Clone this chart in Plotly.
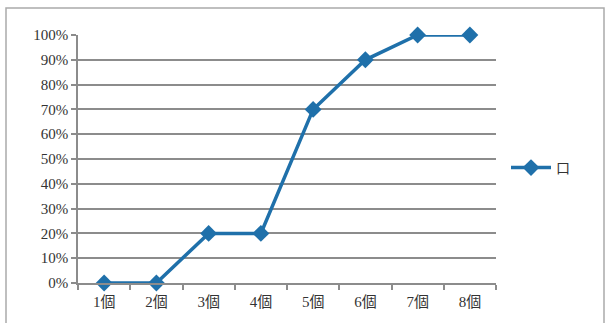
import plotly.graph_objects as go

categories = ["1個", "2個", "3個", "4個", "5個", "6個", "7個", "8個"]
values = [0.0, 0.0, 0.2, 0.2, 0.7, 0.9, 1.0, 1.0]
series_name = "口"

W, H = 607, 323
L, R, T, B = 78, 496, 35, 283

def px_x(p):
    return (p - L) / (R - L)

def px_y(p):
    return (B - p) / (B - T)

font_family = "Liberation Serif, DejaVu Serif, Noto Sans CJK JP, serif"
blue = "#1f70aa"

fig = go.Figure()
fig.add_trace(go.Scatter(
    x=categories, y=values, name=series_name,
    mode="lines+markers",
    line=dict(color=blue, width=3.5),
    marker=dict(symbol="diamond", size=13, color=blue),
    cliponaxis=False,
))

fig.update_layout(
    width=W, height=H,
    margin=dict(l=L, r=W - R, t=T, b=H - B),
    paper_bgcolor="white", plot_bgcolor="white",
    font=dict(family=font_family, size=15, color="#333333"),
    showlegend=True,
    legend=dict(x=px_x(506), y=px_y(168), xanchor="left", yanchor="middle",
                font=dict(size=14, family=font_family, color="#333333"),
                bgcolor="rgba(0,0,0,0)", itemwidth=40),
    xaxis=dict(
        type="category", range=[-0.5, 7.5],
        showline=True, linecolor="#8c8c8c", linewidth=1.5,
        ticks="outside", ticklen=5, tickcolor="#8c8c8c", tickwidth=1.5,
        tickson="boundaries", showgrid=False, zeroline=False,
        tickfont=dict(size=15), ticklabelstandoff=4,
    ),
    yaxis=dict(
        range=[0, 1], tickvals=[i / 10 for i in range(11)], tickformat=".0%",
        showline=True, linecolor="#8c8c8c", linewidth=1.5,
        ticks="outside", ticklen=5, tickcolor="#8c8c8c", tickwidth=1.5,
        showgrid=True, gridcolor="#8c8c8c", gridwidth=1.5, zeroline=False,
        tickfont=dict(size=15),
    ),
    shapes=[dict(type="rect", xref="paper", yref="paper",
                 x0=px_x(6), x1=px_x(604), y0=px_y(335), y1=px_y(8),
                 line=dict(color="#aaaaaa", width=1.5), layer="below")],
)

fig.write_html("out.html")
